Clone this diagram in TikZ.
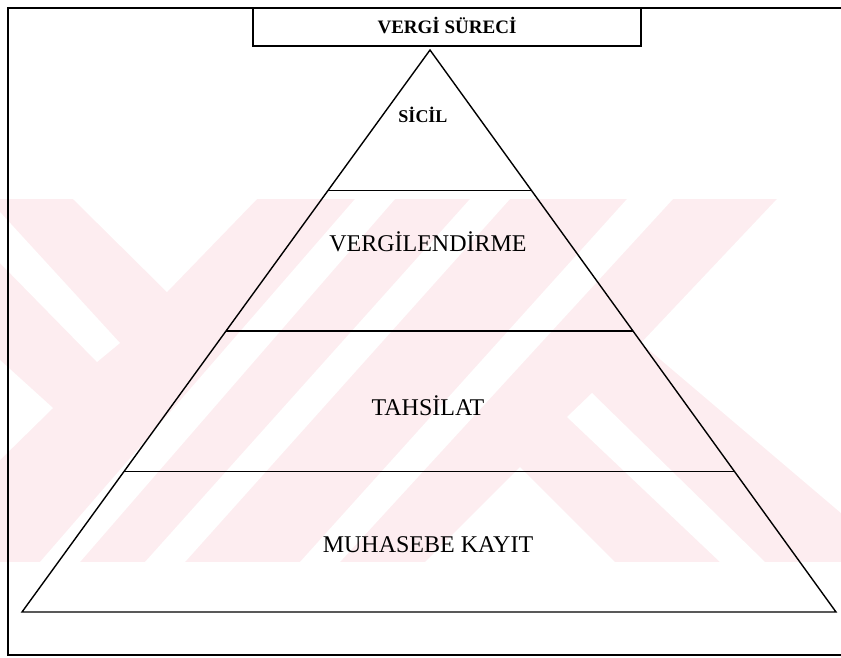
\documentclass[tikz,border=0pt]{standalone}
\usepackage{fontspec}
\setmainfont{Liberation Serif}
\usetikzlibrary{calc}
\definecolor{wmpink}{RGB}{253,237,240}
\begin{document}
\begin{tikzpicture}[x=1pt,y=-1pt,
  frameline/.style={line width=1.7pt},
  pyrline/.style={line width=1.4pt, line join=miter},
  titlebox/.style={draw, line width=1.7pt, minimum width=388pt, minimum height=38pt,
    inner sep=0pt, text height=12.6pt, text depth=0pt,
    font=\fontsize{19}{22}\selectfont\bfseries},
  layerlabel/.style={anchor=base, inner sep=0pt, font=\fontsize{24}{28}\selectfont},
  toplabel/.style={anchor=base, inner sep=0pt, font=\fontsize{18}{21}\selectfont\bfseries}]
\useasboundingbox (0,0) rectangle (841,657);
\fill[white] (0,0) rectangle (841,657);

% faint background emblem: pink band with white diagonal cut-outs
\begin{scope}
  \clip (0,199) rectangle (841,562);
  \fill[wmpink] (0,199) rectangle (841,562);
  \fill[white] (73,199) -- (257,199) -- (167,292) -- cycle;
  \fill[white] (0,212) -- (120,343) -- (97,362) -- (0,263) -- cycle;
  \fill[white] (0,360) -- (53,408) -- (0,460) -- cycle;
  \fill[white] (355,199) -- (395,199) -- (80,562) -- (40,562) -- cycle;
  \fill[white] (470,199) -- (510,199) -- (185,562) -- (145,562) -- cycle;
  \fill[white] (627,199) -- (673,199) -- (340,562) -- (300,562) -- cycle;
  \fill[white] (520,467) -- (425,562) -- (615,562) -- cycle;
  \fill[white] (592,393) -- (567,417) -- (720,562) -- (765,562) -- cycle;
  \fill[white] (777,199) -- (641,343) -- (841,513) -- (850,513) -- (850,190) -- cycle;
\end{scope}

% outer frame (open on the right)
\draw[frameline] (841,8) -- (8,8) -- (8,655) -- (841,655);

% title
\node[titlebox] (title) at (447,27) {VERGİ SÜRECİ};

% pyramid
\coordinate (apex) at (430,50);
\coordinate (bl) at (22,612);
\coordinate (br) at (836,612);
\draw[pyrline] (apex) -- (bl) -- (br) -- cycle;
\foreach \t in {0.25,0.5,0.75}
  \draw[pyrline] ($(apex)!\t!(bl)$) -- ($(apex)!\t!(br)$);

% layer labels
\node[toplabel] (sicil) at (423,122) {SİCİL};
\node[layerlabel] (vergilendirme) at (428,251) {VERGİLENDİRME};
\node[layerlabel] (tahsilat) at (428,415) {TAHSİLAT};
\node[layerlabel] (muhasebe) at (428,552) {MUHASEBE KAYIT};
\end{tikzpicture}
\end{document}
